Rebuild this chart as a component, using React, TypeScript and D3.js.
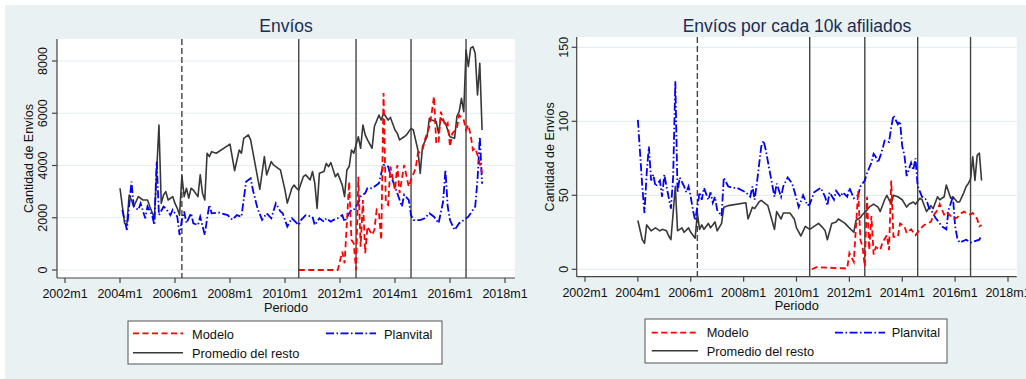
import React from 'react';
import * as d3 from 'd3';

// month offsets are counted from 2004m1 (0 = 2004m1)
const xTickLabels = ['2002m1', '2004m1', '2006m1', '2008m1', '2010m1', '2012m1', '2014m1', '2016m1', '2018m1'];
const dashedPeriod = '2006m4';
const solidPeriods = ['2010m7', '2012m8', '2014m8', '2016m8'];

const enviosTicks = [0, 2000, 4000, 6000, 8000];
const tasaTicks = [0, 50, 100, 150];

const seriesNames = ['Modelo', 'Planvital', 'Promedio del resto'];

// Envíos (left)
const enviosResto: [number, number][] = [
  [0, 3130], [2, 1790], [3, 1740], [4, 2870], [5, 2680], [6, 2430], [8, 2810], [10, 2680], [12, 2680], [13, 2430],
  [15, 1980], [17, 5550], [18, 2550], [19, 2870], [20, 3000], [21, 2680], [23, 2810], [24, 2550], [25, 2360], [26, 2100],
  [27, 3600], [28, 2810], [29, 3130], [30, 2750], [31, 3130], [32, 3060], [34, 2810], [35, 3640], [36, 2940], [37, 2680],
  [38, 4470], [39, 4340], [40, 4530], [42, 4470], [48, 4820], [50, 3800], [52, 4590], [53, 4470], [54, 5040], [56, 5170],
  [57, 4980], [61, 3090], [63, 4340], [64, 3640], [66, 4150], [67, 4020], [69, 3890], [70, 3830], [72, 3060], [73, 2560],
  [75, 3130], [76, 3250], [77, 3130], [78, 3060], [80, 3570], [81, 3640], [83, 3450], [84, 3770], [85, 3320], [86, 2360],
  [87, 3700], [89, 3770], [90, 4080], [91, 3960], [92, 4110], [94, 3570], [95, 3700], [97, 3250], [98, 2810], [99, 3830],
  [100, 3960], [101, 4590], [102, 4470], [104, 5100], [105, 4660], [106, 5550], [107, 5170], [108, 4980], [110, 4660],
  [111, 5490], [113, 5930], [114, 5740], [115, 6000], [117, 5740], [118, 5840], [120, 5360], [121, 5230], [122, 4980],
  [124, 5100], [125, 5170], [127, 5420], [128, 5360], [130, 4590], [131, 3700], [132, 4720], [134, 5100], [135, 5810],
  [136, 5740], [138, 5680], [139, 5230], [140, 5810], [142, 5620], [143, 5360], [144, 5100], [146, 5040], [147, 5870],
  [148, 6060], [149, 6570], [150, 6060], [151, 8420], [152, 7780], [153, 8490], [154, 8550], [155, 8300], [156, 6700],
  [157, 7910], [158, 5360],
];
const enviosPlanvital: [number, number][] = [
  [1, 2300], [3, 1530], [5, 3380], [6, 2430], [8, 2300], [9, 2550], [11, 1980], [12, 2430], [14, 2100], [15, 1720],
  [16, 4150], [17, 2100], [19, 2430], [20, 2360], [22, 2100], [23, 2300], [25, 2040], [26, 1340], [27, 1920], [28, 2240],
  [29, 1790], [31, 2170], [32, 1790], [34, 1720], [35, 2040], [37, 1340], [38, 1980], [39, 2490], [40, 2170], [43, 2200],
  [47, 2100], [49, 1920], [51, 2100], [53, 2040], [55, 3380], [57, 3510], [58, 3060], [60, 2360], [62, 1920], [64, 2170],
  [66, 1980], [68, 2550], [70, 2240], [71, 2170], [73, 1660], [75, 1980], [78, 1720], [79, 1910], [81, 2100], [84, 2040],
  [85, 1720], [87, 1980], [89, 1850], [90, 1980], [92, 1850], [93, 1910], [95, 1980], [97, 2100], [98, 1850], [100, 2170],
  [101, 2300], [102, 2300], [104, 2560], [105, 2810], [107, 2940], [108, 3130], [110, 3130], [113, 3320], [114, 3700],
  [115, 4020], [117, 3960], [118, 3640], [120, 3190], [121, 2940], [123, 2430], [124, 2880], [126, 2680], [127, 2100],
  [128, 1910], [131, 1910], [133, 1980], [135, 2170], [137, 2040], [139, 1790], [141, 2620], [142, 3830], [143, 2430],
  [144, 1910], [146, 1530], [148, 1790], [150, 1910], [152, 2040], [155, 2430], [156, 3450], [157, 5100], [158, 3300],
];
const enviosModelo: [number, number][] = [
  [78, 0], [95, 0], [97, 700], [98, 260], [99, 1800], [100, 3380], [101, 1150], [102, 1020], [103, 0], [104, 3570],
  [105, 890], [106, 2680], [107, 640], [108, 1660], [110, 1340], [111, 1530], [112, 2300], [113, 2170], [114, 1150],
  [115, 6770], [116, 2560], [117, 2490], [118, 3960], [120, 3060], [121, 4020], [122, 2940], [124, 4020], [126, 3190],
  [127, 3450], [129, 3890], [130, 4470], [132, 4590], [133, 4980], [135, 5490], [136, 6000], [137, 6640], [138, 4850],
  [139, 4850], [140, 6060], [142, 5490], [143, 5620], [144, 4720], [145, 5230], [147, 5420], [148, 5930], [150, 5740],
  [151, 5360], [152, 5550], [153, 5170], [154, 4590], [155, 4660], [156, 4400], [157, 4080], [158, 3700],
];

// Envíos por cada 10k afiliados (right)
const tasaResto: [number, number][] = [
  [0, 33], [2, 20], [3, 17.5], [4, 30], [6, 26], [8, 28], [10, 26], [11, 27], [13, 26], [14, 22.5], [15, 20], [17, 56],
  [18, 26], [20, 28], [21, 25], [23, 28], [24, 25], [26, 21], [27, 38], [28, 27], [29, 30], [30, 27], [32, 31], [33, 28],
  [35, 32], [36, 26], [38, 31], [39, 42], [41, 43], [49, 45], [50, 34], [52, 42], [53, 41], [55, 45.5], [56, 46.6],
  [59, 43], [62, 27], [63, 39], [65, 34], [66, 38], [69, 38], [71, 34], [72, 28], [74, 22.5], [76, 29], [78, 27],
  [80, 29], [82, 31], [84, 28], [85, 26], [86, 20], [88, 31], [90, 32], [91, 34], [93, 32], [94, 31], [96, 28], [98, 25],
  [99, 33], [101, 35], [102, 37], [104, 40], [105, 42], [107, 44], [109, 42], [110, 39], [112, 47], [113, 50], [115, 44],
  [116, 50], [118, 49], [120, 47], [122, 42], [123, 44], [125, 45.5], [126, 44], [128, 48], [129, 47], [131, 39],
  [133, 43], [134, 41], [136, 49], [137, 47], [139, 49], [140, 57], [142, 48], [143, 49], [145, 45.5], [146, 45.5],
  [148, 52], [149, 56], [150, 58], [151, 61], [152, 76], [153, 60], [154, 77], [155, 78.5], [156, 60],
];
const tasaPlanvital: [number, number][] = [
  [0, 101], [2, 56], [3, 38], [4, 65], [5, 83], [6, 60], [7, 64], [8, 56], [10, 60], [11, 49], [12, 64], [13, 56],
  [15, 41], [16, 62], [17, 127], [18, 52], [19, 62], [21, 56], [22, 52], [23, 56], [24, 49], [25, 40], [26, 33],
  [28, 52], [29, 47], [30, 55], [32, 47], [33, 52], [34, 45], [35, 49], [36, 40], [38, 36], [39, 62], [41, 56], [43, 55],
  [45, 55], [49, 52], [51, 49], [52, 56], [53, 47], [54, 58], [56, 83], [57, 87], [58, 81], [60, 65], [62, 49], [63, 58],
  [65, 49], [66, 56], [68, 62], [70, 58], [71, 53], [73, 42], [75, 50], [77, 43], [78, 44], [80, 52], [81, 53], [83, 55],
  [85, 49], [86, 43], [87, 52], [89, 47], [90, 53], [92, 49], [93, 52], [95, 49], [96, 55], [98, 48], [100, 50],
  [101, 56], [103, 60], [104, 65], [106, 72], [107, 78], [108, 76], [109, 72], [111, 81], [112, 87], [114, 86],
  [115, 96], [116, 104], [118, 98], [119, 100], [120, 83], [121, 77], [122, 63], [124, 72], [125, 67], [126, 75],
  [127, 56], [129, 49], [131, 47], [132, 42], [134, 38], [135, 35], [137, 31], [138, 29], [140, 27], [141, 40],
  [143, 49], [144, 29], [145, 21], [146, 18], [149, 20], [151, 18], [153, 19], [155, 20], [156, 23],
];
const tasaModelo: [number, number][] = [
  [79, 0], [81, 1.5], [95, 0.5], [96, 11], [98, 5], [99, 29], [100, 53], [101, 20], [102, 15], [103, 2], [104, 49],
  [105, 13], [106, 36], [107, 10], [108, 15], [110, 13], [111, 18], [113, 23], [114, 13], [115, 60], [116, 22],
  [118, 22], [119, 31], [121, 29], [122, 24.5], [124, 27], [126, 23], [128, 27], [130, 30], [133, 32], [134, 36],
  [136, 40], [137, 44], [139, 37], [140, 39], [142, 36], [143, 34], [145, 35], [146, 37], [148, 39], [149, 38],
  [151, 37], [152, 38], [154, 34], [155, 29], [156, 30],
];

const periodIndex = (p: string) => {
  const [y, m] = p.split('m').map(Number);
  return (y - 2004) * 12 + (m - 1);
};

const FONT = '"Liberation Sans", Arial, Helvetica, sans-serif';
const BG = '#e9f1f3';
const GRID = '#e6eef1';
const styles = {
  modelo: { stroke: '#ff0000', dash: '6,3.5' },
  planvital: { stroke: '#0000ff', dash: '8,2.5,1.5,2.5' },
  resto: { stroke: '#383838', dash: '' },
};

type Layout = {
  x0: number; x1: number; y0: number; y1: number;
  xRange: [number, number]; yTicks: number[]; yRange: [number, number];
  tickLabelX: number; yLabelX: number; tickBase: number; periodoBase: number;
  title: string; titleX: number;
  leg: { x: number; y: number; w: number; h: number; r1: number; r2: number; b1: number; b2: number;
    l1: [number, number]; t1: number; l2: [number, number]; t2: number };
};

const Panel = ({ lay, resto, planvital, modelo }: { lay: Layout; resto: [number, number][]; planvital: [number, number][]; modelo: [number, number][] }) => {
  const x = d3.scaleLinear().domain([periodIndex(xTickLabels[0]), periodIndex(xTickLabels[xTickLabels.length - 1])]).range(lay.xRange);
  const y = d3.scaleLinear().domain([lay.yTicks[0], lay.yTicks[lay.yTicks.length - 1]]).range(lay.yRange);
  const line = d3.line<[number, number]>().x(d => x(d[0])).y(d => y(d[1]));
  const L = lay.leg;
  return (
    <g fontFamily={FONT}>
      <text x={lay.titleX} y={32} textAnchor="middle" fontSize={17.5} fill="#1c2b57">{lay.title}</text>
      <rect x={lay.x0} y={lay.y0} width={lay.x1 - lay.x0} height={lay.y1 - lay.y0} fill="#fff" />
      {lay.yTicks.map(t => (
        <line key={t} x1={lay.x0} x2={lay.x1} y1={y(t)} y2={y(t)} stroke={GRID} strokeWidth={1.2} />
      ))}
      <line x1={x(periodIndex(dashedPeriod))} x2={x(periodIndex(dashedPeriod))} y1={lay.y0} y2={lay.y1}
        stroke="#444" strokeWidth={1.4} strokeDasharray="6,3" />
      {solidPeriods.map(p => (
        <line key={p} x1={x(periodIndex(p))} x2={x(periodIndex(p))} y1={lay.y0} y2={lay.y1} stroke="#444" strokeWidth={1.4} />
      ))}
      <path d={line(resto) ?? ''} fill="none" stroke={styles.resto.stroke} strokeWidth={1.6} strokeLinejoin="round" />
      <path d={line(planvital) ?? ''} fill="none" stroke={styles.planvital.stroke} strokeWidth={1.8} strokeDasharray={styles.planvital.dash} />
      <path d={line(modelo) ?? ''} fill="none" stroke={styles.modelo.stroke} strokeWidth={1.8} strokeDasharray={styles.modelo.dash} />
      {/* axes */}
      <line x1={lay.x0} x2={lay.x0} y1={lay.y0} y2={lay.y1} stroke="#444" strokeWidth={1.2} />
      <line x1={lay.x0} x2={lay.x1} y1={lay.y1} y2={lay.y1} stroke="#444" strokeWidth={1.2} />
      {lay.yTicks.map(t => (
        <g key={t}>
          <line x1={lay.x0 - 5} x2={lay.x0} y1={y(t)} y2={y(t)} stroke="#444" strokeWidth={1.2} />
          <text transform={`translate(${lay.tickLabelX},${y(t)}) rotate(-90)`} textAnchor="middle" fontSize={12.5} fill="#111">{t}</text>
        </g>
      ))}
      {xTickLabels.map(lbl => (
        <g key={lbl}>
          <line x1={x(periodIndex(lbl))} x2={x(periodIndex(lbl))} y1={lay.y1} y2={lay.y1 + 5} stroke="#444" strokeWidth={1.2} />
          <text x={x(periodIndex(lbl))} y={lay.tickBase} textAnchor="middle" fontSize={12.5} fill="#111">{lbl}</text>
        </g>
      ))}
      <text transform={`translate(${lay.yLabelX},${(lay.y0 + lay.y1) / 2}) rotate(-90)`} textAnchor="middle" fontSize={12.5} fill="#111">Cantidad de Envíos</text>
      <text x={(lay.x0 + lay.x1) / 2} y={lay.periodoBase} textAnchor="middle" fontSize={12.8} fill="#111">Periodo</text>
      {/* legend */}
      <rect x={L.x} y={L.y} width={L.w} height={L.h} fill="#fff" stroke="#555" strokeWidth={1} />
      <line x1={L.l1[0]} x2={L.l1[1]} y1={L.r1} y2={L.r1} stroke={styles.modelo.stroke} strokeWidth={1.8} strokeDasharray={styles.modelo.dash} />
      <text x={L.t1} y={L.b1} fontSize={12.8} fill="#111">{seriesNames[0]}</text>
      <line x1={L.l2[0]} x2={L.l2[1]} y1={L.r1} y2={L.r1} stroke={styles.planvital.stroke} strokeWidth={1.8} strokeDasharray={styles.planvital.dash} />
      <text x={L.t2} y={L.b1} fontSize={12.8} fill="#111">{seriesNames[1]}</text>
      <line x1={L.l1[0]} x2={L.l1[1]} y1={L.r2} y2={L.r2} stroke={styles.resto.stroke} strokeWidth={1.6} />
      <text x={L.t1} y={L.b2} fontSize={12.8} fill="#111">{seriesNames[2]}</text>
    </g>
  );
};

const leftLayout: Layout = {
  x0: 57, x1: 515, y0: 39, y1: 278, xRange: [65, 505], yTicks: enviosTicks, yRange: [270, 61],
  tickLabelX: 46.5, yLabelX: 33, tickBase: 298, periodoBase: 311.5, title: 'Envíos', titleX: 286,
  leg: { x: 128, y: 321, w: 314, h: 43, r1: 333.3, r2: 352.7, b1: 338.8, b2: 357.5, l1: [133, 183], t1: 192, l2: [326, 376], t2: 384 },
};
const rightLayout: Layout = {
  x0: 576.7, x1: 1016.7, y0: 37, y1: 276.7, xRange: [585, 1008], yTicks: tasaTicks, yRange: [269.3, 47.3],
  tickLabelX: 568, yLabelX: 553.5, tickBase: 296.7, periodoBase: 310, title: 'Envíos por cada 10k afiliados', titleX: 797,
  leg: { x: 645, y: 319, w: 302, h: 44, r1: 332.7, r2: 350.7, b1: 337.3, b2: 355.5, l1: [651.7, 698], t1: 706.7, l2: [835, 885], t2: 891.7 },
};

export default function App() {
  return (
    <svg width={1026} height={379} style={{ position: 'absolute', left: 0, top: 0 }}>
      <rect width={1026} height={379} fill="#fff" />
      <rect x={5} y={5} width={1021} height={374} fill={BG} />
      <Panel lay={leftLayout} resto={enviosResto} planvital={enviosPlanvital} modelo={enviosModelo} />
      <Panel lay={rightLayout} resto={tasaResto} planvital={tasaPlanvital} modelo={tasaModelo} />
    </svg>
  );
}
